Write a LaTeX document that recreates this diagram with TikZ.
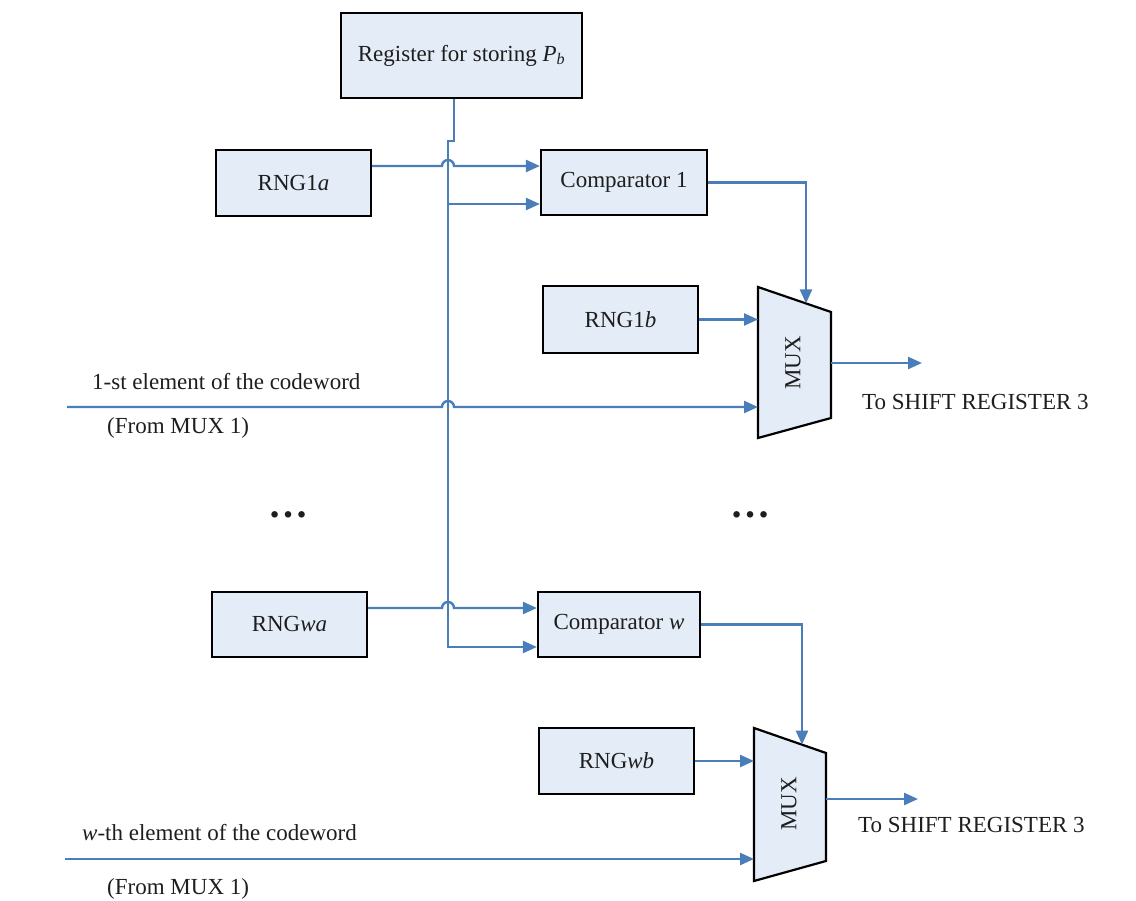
\documentclass[tikz,border=0pt]{standalone}
\usepackage{fontspec}
\setmainfont{Liberation Serif}
\usetikzlibrary{arrows.meta,calc}
\definecolor{boxfill}{RGB}{228,236,247}
\definecolor{wireblue}{RGB}{74,126,187}
\definecolor{ink}{RGB}{30,30,30}
\begin{document}
\begin{tikzpicture}[x=1pt,y=-1pt,
  box/.style={draw=black, line width=2.2pt, fill=boxfill, inner sep=0pt,
              text=ink, font=\fontsize{23}{26}\selectfont},
  muxshape/.style={draw=black, line width=2.2pt, fill=boxfill},
  wire/.style={draw=wireblue, line width=2.4pt},
  arrowed/.style={wire, -{Triangle[length=14pt,width=12pt]}},
  lbl/.style={text=ink, font=\fontsize{23}{26}\selectfont, inner sep=0pt},
  dotsl/.style={text=ink, font=\fontsize{40}{40}\selectfont\bfseries, inner sep=0pt}]
\useasboundingbox (0,0) rectangle (1136,901);

% ---- blocks ----
\node[box, minimum width=241pt, minimum height=85pt] (reg) at (461.5,55.5)
  {Register for storing {\itshape P}\textsubscript{\itshape b}};
\node[box, minimum width=155pt, minimum height=66pt] (rng1a) at (293.5,183) {RNG1\textit{a}};
\node[box, minimum width=166pt, minimum height=65pt] (cmp1) at (624,182.5) {Comparator 1};
\node[box, minimum width=155pt, minimum height=67pt] (rng1b) at (620.5,319.5) {RNG1\textit{b}};
\node[box, minimum width=155pt, minimum height=65pt] (rngwa) at (289.5,624.5) {RNG\textit{wa}};
\node[box, minimum width=162pt, minimum height=65pt] (cmpw) at (619,624.5) {Comparator \textit{w}};
\node[box, minimum width=155pt, minimum height=66pt] (rngwb) at (616.5,761) {RNG\textit{wb}};

% ---- multiplexers ----
\coordinate (m1a) at (758,287);
\coordinate (m1b) at (831,312);
\coordinate (m1c) at (831,418);
\coordinate (m1d) at (758,438);
\draw[muxshape] (m1a) -- (m1b) -- (m1c) -- (m1d) -- cycle;
\node[lbl, rotate=90] (mux1) at (793,363) {MUX};

\coordinate (m2a) at (754,728);
\coordinate (m2b) at (826,753);
\coordinate (m2c) at (826,861);
\coordinate (m2d) at (754,881);
\draw[muxshape] (m2a) -- (m2b) -- (m2c) -- (m2d) -- cycle;
\node[lbl, rotate=90] (mux2) at (789,804) {MUX};

\coordinate (m1top) at ($(m1a)!{48/73}!(m1b)$);
\coordinate (m2top) at ($(m2a)!{48/72}!(m2b)$);

% ---- labels ----
\node[lbl, anchor=west] (cwl1) at (92,382) {1-st element of the codeword};
\node[lbl, anchor=west] (fm1) at (107,428) {(From MUX 1)};
\node[lbl, anchor=west] (cwl2) at (82,833) {\textit{w}-th element of the codeword};
\node[lbl, anchor=west] (fm2) at (107,889) {(From MUX 1)};
\node[lbl, anchor=west] (to1) at (862,402) {To SHIFT REGISTER 3};
\node[lbl, anchor=west] (to2) at (858,825) {To SHIFT REGISTER 3};
\node[dotsl] (dl) at (288,515) {…};
\node[dotsl] (dr) at (750,515) {…};

% ---- connector anchors ----
\coordinate (bus) at (448,0);
\coordinate (in1a) at ([yshift=17pt]rng1a.east);
\coordinate (in1b) at ([yshift=-21.5pt]cmp1.west);
\coordinate (inwa) at ([yshift=16.5pt]rngwa.east);
\coordinate (inwb) at ([yshift=-22.5pt]cmpw.west);
\coordinate (cw1) at (67,407);
\coordinate (cw2) at (65,859);
\coordinate (o1) at (922,363);
\coordinate (o2) at (918,799);

% ---- P_b distribution bus ----
\draw[arrowed] ([xshift=-7.5pt]reg.south) -- ++(0,42) -- ++(-6,0) |- (inwb);
\draw[arrowed] (in1b -| bus) -- (in1b);

% ---- lines hopping over the bus ----
\draw[arrowed] (in1a) -- ($(in1a -| bus)+(-6,0)$)
  arc[start angle=180, end angle=0, radius=6pt] -- (in1a -| cmp1.west);
\draw[arrowed] (cw1) -- ($(cw1 -| bus)+(-6,0)$)
  arc[start angle=180, end angle=0, radius=6pt] -- (cw1 -| m1a);
\draw[arrowed] (inwa) -- ($(inwa -| bus)+(-6,0)$)
  arc[start angle=180, end angle=0, radius=6pt] -- (inwa -| cmpw.west);

% ---- multiplexer inputs and outputs ----
\draw[arrowed] (rng1b.east) -- (rng1b.east -| m1a);
\draw[arrowed] (cmp1.east) -| (m1top);
\draw[arrowed] (m1b |- o1) -- (o1);

\draw[arrowed] (rngwb.east) -- (rngwb.east -| m2a);
\draw[arrowed] (cw2) -- (cw2 -| m2a);
\draw[arrowed] (cmpw.east) -| (m2top);
\draw[arrowed] (m2b |- o2) -- (o2);
\end{tikzpicture}
\end{document}
